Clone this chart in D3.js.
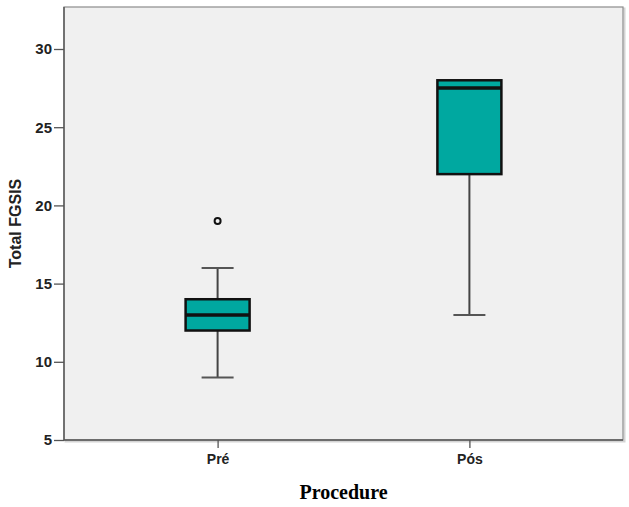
<!DOCTYPE html>
<html>
<head>
<meta charset="utf-8">
<script src="https://cdn.jsdelivr.net/npm/d3@7"></script>
<style>
  body { margin: 0; background: #fff; }
  svg { display: block; }
</style>
</head>
<body>
<svg id="chart" width="629" height="507"></svg>
<script>
var categories = ["Pré", "Pós"];
var whiskerLow = [9, 13];
var q1 = [12, 22];
var median = [13, 27.5];
var q3 = [14, 28];
var whiskerHigh = [16, 28];
var outliers = [[19], []];
var yTicks = [5, 10, 15, 20, 25, 30];

var svg = d3.select("#chart");

var pLeft = 64, pRight = 623, pTop = 7, pBottom = 440;

var x = d3.scalePoint()
    .domain(categories)
    .range([pLeft, pRight])
    .padding(0.61);

var y = d3.scaleLinear()
    .domain([5, 30])
    .range([pBottom, 49]);

// plot background with light shadow
svg.append("rect")
    .attr("x", pLeft + 1.5)
    .attr("y", pTop + 1.5)
    .attr("width", pRight - pLeft)
    .attr("height", pBottom - pTop)
    .attr("fill", "none")
    .attr("stroke", "#d4d4d4")
    .attr("stroke-width", 2);

svg.append("rect")
    .attr("x", pLeft)
    .attr("y", pTop)
    .attr("width", pRight - pLeft)
    .attr("height", pBottom - pTop)
    .attr("fill", "#f0f0f0")
    .attr("stroke", "#8c8c8c")
    .attr("stroke-width", 1.2);

// axes
var yAxis = d3.axisLeft(y)
    .tickValues(yTicks)
    .tickSize(10)
    .tickPadding(2);

var gy = svg.append("g")
    .attr("transform", "translate(" + pLeft + ",0)")
    .call(yAxis);
gy.select(".domain").attr("stroke", "#555").attr("stroke-width", 1.4).attr("d", "M0," + pTop + "V" + pBottom);
gy.selectAll(".tick text").style("font-size", "15px");

var xAxis = d3.axisBottom(x)
    .tickSize(8)
    .tickPadding(6);

var gx = svg.append("g")
    .attr("transform", "translate(0," + pBottom + ")")
    .call(xAxis);
gx.select(".domain").attr("stroke", "#555").attr("stroke-width", 1.6).attr("d", "M" + pLeft + ",0H" + pRight);
gx.selectAll(".tick text").style("font-size", "14px");

svg.selectAll(".tick line").attr("stroke", "#555").attr("stroke-width", 1.3);
svg.selectAll(".tick text")
    .style("font-family", "Arial, 'Liberation Sans', sans-serif")
    .style("font-weight", "bold")
    .attr("fill", "#222");

// boxes
var bw = 64;
var groups = svg.selectAll(".box")
    .data(categories)
    .enter()
    .append("g")
    .attr("class", "box");

groups.append("line")
    .attr("x1", d => x(d))
    .attr("x2", d => x(d))
    .attr("y1", (d, i) => y(whiskerLow[i]))
    .attr("y2", (d, i) => y(whiskerHigh[i]))
    .attr("stroke", "#444")
    .attr("stroke-width", 2);

groups.append("line")
    .attr("x1", d => x(d) - 16)
    .attr("x2", d => x(d) + 16)
    .attr("y1", (d, i) => y(whiskerLow[i]))
    .attr("y2", (d, i) => y(whiskerLow[i]))
    .attr("stroke", "#555")
    .attr("stroke-width", 2);

groups.append("line")
    .attr("x1", d => x(d) - 16)
    .attr("x2", d => x(d) + 16)
    .attr("y1", (d, i) => y(whiskerHigh[i]))
    .attr("y2", (d, i) => y(whiskerHigh[i]))
    .attr("stroke", "#555")
    .attr("stroke-width", 2)
    .style("display", (d, i) => whiskerHigh[i] > q3[i] ? null : "none");

groups.append("rect")
    .attr("x", d => x(d) - bw / 2)
    .attr("y", (d, i) => y(q3[i]))
    .attr("width", bw)
    .attr("height", (d, i) => y(q1[i]) - y(q3[i]))
    .attr("fill", "#00a8a0")
    .attr("stroke", "#111")
    .attr("stroke-width", 2.5);

groups.append("line")
    .attr("x1", d => x(d) - bw / 2)
    .attr("x2", d => x(d) + bw / 2)
    .attr("y1", (d, i) => y(median[i]))
    .attr("y2", (d, i) => y(median[i]))
    .attr("stroke", "#111")
    .attr("stroke-width", 3.5);

groups.each(function(d, i) {
    d3.select(this).selectAll(".outlier")
        .data(outliers[i])
        .enter()
        .append("circle")
        .attr("class", "outlier")
        .attr("cx", x(d))
        .attr("cy", v => y(v))
        .attr("r", 3)
        .attr("fill", "none")
        .attr("stroke", "#111")
        .attr("stroke-width", 2);
});

// axis titles
svg.append("text")
    .attr("transform", "translate(21," + ((pTop + pBottom) / 2) + ") rotate(-90)")
    .text("Total FGSIS")
    .style("text-anchor", "middle")
    .style("font-family", "Arial, 'Liberation Sans', sans-serif")
    .style("font-size", "16px")
    .style("font-weight", "bold")
    .attr("fill", "#222");

svg.append("text")
    .attr("x", (pLeft + pRight) / 2)
    .attr("y", 499)
    .text("Procedure")
    .style("text-anchor", "middle")
    .style("font-family", "'Times New Roman', 'Liberation Serif', serif")
    .style("font-size", "20px")
    .style("font-weight", "bold")
    .attr("fill", "#000");
</script>
</body>
</html>
